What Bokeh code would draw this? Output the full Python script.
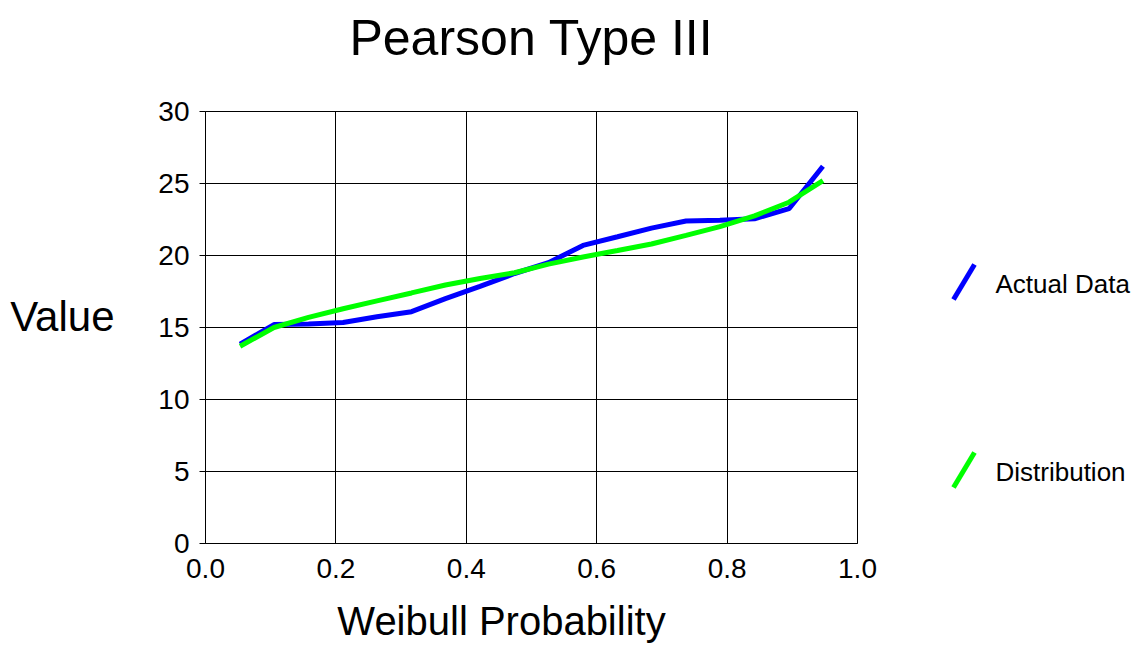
from bokeh.plotting import figure
from bokeh.models import FixedTicker, NumeralTickFormatter, Range1d, LinearAxis
from bokeh.layouts import row
from bokeh.core.properties import value
from bokeh.embed import file_html
from bokeh.resources import INLINE

# ---- data ----
weibull_prob = [0.053, 0.105, 0.158, 0.211, 0.263, 0.316, 0.368, 0.421, 0.474,
                0.526, 0.579, 0.632, 0.684, 0.737, 0.789, 0.842, 0.895, 0.947]
actual_data = [13.85, 15.2, 15.25, 15.35, 15.75, 16.1, 17.0, 17.85, 18.75,
               19.5, 20.7, 21.3, 21.9, 22.4, 22.45, 22.55, 23.25, 26.2]
distribution = [13.7, 15.0, 15.7, 16.3, 16.85, 17.4, 17.95, 18.4, 18.8,
                19.4, 19.9, 20.35, 20.8, 21.4, 22.0, 22.75, 23.7, 25.2]
x_ticks = [0.0, 0.2, 0.4, 0.6, 0.8, 1.0]
y_ticks = [0, 5, 10, 15, 20, 25, 30]
title_text = "Pearson Type III"
x_label = "Weibull Probability"
y_label = "Value"
series_names = ["Actual Data", "Distribution"]
series_colors = ["#0000FF", "#00FF00"]

FONT = "Liberation Sans"
H = 652
TOP, BOTTOM = 111, 543

p = figure(width=880, height=H, output_backend="svg", toolbar_location=None,
           x_range=Range1d(0, 1), y_range=Range1d(0, 30),
           min_border_left=205, min_border_right=23,
           min_border_top=TOP, min_border_bottom=H - BOTTOM)
p.background_fill_color = "white"
p.border_fill_color = "white"
p.outline_line_color = "black"
p.outline_line_width = 1

p.xaxis.ticker = FixedTicker(ticks=x_ticks)
p.yaxis.ticker = FixedTicker(ticks=y_ticks)
p.xgrid.ticker = FixedTicker(ticks=x_ticks)
p.ygrid.ticker = FixedTicker(ticks=y_ticks)
p.xaxis.formatter = NumeralTickFormatter(format="0.0")
p.yaxis.formatter = NumeralTickFormatter(format="0")
for g in (p.xgrid, p.ygrid):
    g.grid_line_color = "black"
    g.grid_line_width = 1
    g.grid_line_alpha = 1.0

for ax in (p.xaxis, p.yaxis):
    ax.axis_line_color = "black"
    ax.axis_line_width = 1
    ax.minor_tick_line_color = None
    ax.major_label_text_font = FONT
    ax.major_label_text_font_size = "28px"
    ax.major_label_text_color = "black"
p.xaxis.major_tick_line_color = None
p.xaxis.major_label_standoff = 9
p.yaxis.major_tick_out = 6
p.yaxis.major_tick_in = 0
p.yaxis.major_tick_line_color = "black"
p.yaxis.major_label_standoff = 10


def label_axis(pos, text, size, standoff):
    return LinearAxis(ticker=FixedTicker(ticks=[pos]),
                      major_label_overrides={pos: text},
                      axis_line_color=None, major_tick_line_color=None,
                      minor_tick_line_color=None,
                      major_label_text_font=FONT, major_label_text_font_size=size,
                      major_label_text_color="black", major_label_standoff=standoff)


# y label "Value" (horizontal), x label and title as single-label axes
p.add_layout(label_axis(15.75, y_label, "42px", 35), "left")
p.add_layout(label_axis(0.454, x_label, "40px", 12), "below")
p.add_layout(label_axis(0.5, title_text, "50px", 40), "above")

p.line(weibull_prob, actual_data, line_color=series_colors[0], line_width=5)
p.line(weibull_prob, distribution, line_color=series_colors[1], line_width=5)

# legend panel (frame aligned with the main frame; y in page pixels)
LW = 256
lg = figure(width=LW, height=H, output_backend="svg", toolbar_location=None,
            x_range=Range1d(0, LW), y_range=Range1d(BOTTOM, TOP),
            min_border_left=0, min_border_right=0,
            min_border_top=TOP, min_border_bottom=H - BOTTOM)
lg.axis.visible = False
lg.grid.visible = False
lg.outline_line_color = None
lg.background_fill_color = "white"
lg.border_fill_color = "white"
leg_y = [283, 471]
for name, col, ly in zip(series_names, series_colors, leg_y):
    lg.segment(x0=[73], y0=[ly + 16], x1=[94], y1=[ly - 19], line_color=col, line_width=5)
    lg.text(x=[115], y=[ly], text=[name], text_font=value(FONT), text_font_size="26px",
            text_align="left", text_baseline="middle", text_color="black")

layout = row(p, lg)
open("out.html", "w").write(file_html(layout, INLINE))
